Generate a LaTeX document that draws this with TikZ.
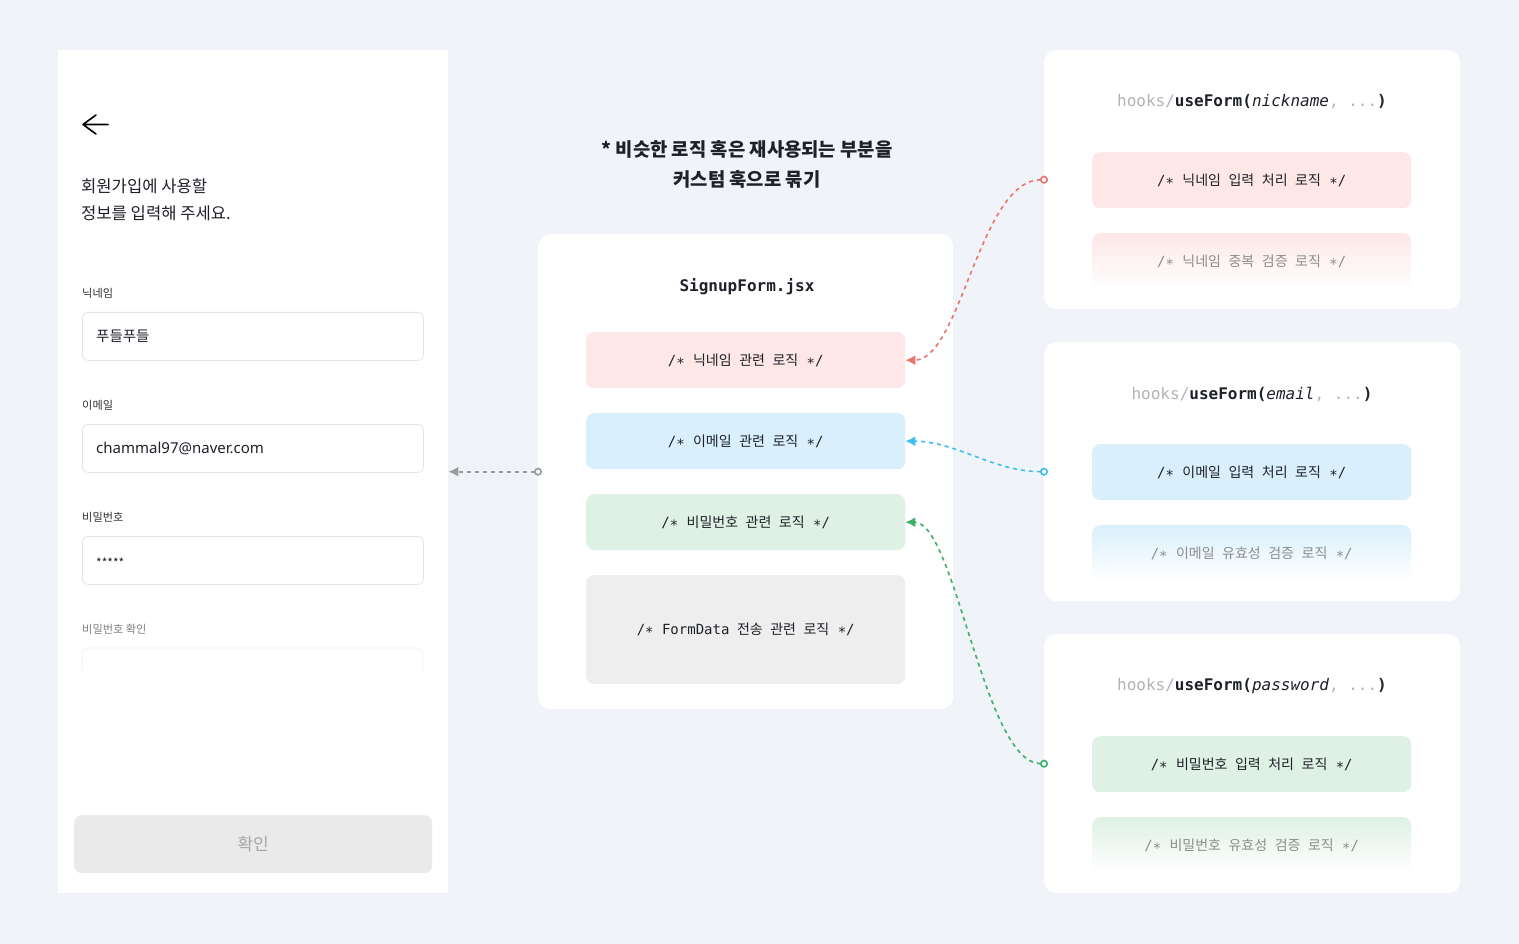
\documentclass[tikz,border=0pt]{standalone}
\usepackage{fontspec}
\setmainfont{Noto Sans CJK KR}
\newfontfamily\latinui{Noto Sans}
\newfontfamily\codefont{DejaVu Sans Mono}[ItalicFont={DejaVu Sans Mono Oblique},BoldFont={DejaVu Sans Mono Bold},BoldItalicFont={DejaVu Sans Mono Bold Oblique}]
\newfontfamily\kocode[WordSpace=2.4]{Noto Sans CJK KR}
\usetikzlibrary{positioning,arrows.meta}

\definecolor{pagebg}{HTML}{F0F3F7}
\definecolor{inkdark}{HTML}{1E2128}
\definecolor{pinkfill}{HTML}{FDE7E7}
\definecolor{bluefill}{HTML}{D9F0FC}
\definecolor{greenfill}{HTML}{DEF1E4}
\definecolor{grayfill}{HTML}{EEEEEE}
\definecolor{redline}{HTML}{E9736D}
\definecolor{blueline}{HTML}{3BBDF5}
\definecolor{greenline}{HTML}{3DAF6B}
\definecolor{grayline}{HTML}{9A9A9A}
\definecolor{hookgray}{HTML}{B3B3B3}
\definecolor{fieldline}{HTML}{E3E3E3}
\definecolor{btnfill}{HTML}{EAEAEA}

\newcommand\cmt[1]{{\codefont /∗}\hspace{0.6em}{\fontsize{14}{16}\selectfont\kocode #1}\hspace{0.6em}{\codefont ∗/}}
\newcommand\hooktitle[1]{{\color{hookgray}hooks/}{\bfseries useForm(}{\itshape #1}{\color{hookgray}, ...}{\bfseries )}}

\begin{document}
\begin{tikzpicture}[x=1pt,y=-1pt]
\tikzset{panel/.style={fill=white,anchor=north west,inner sep=0pt}}
\tikzset{card/.style={panel,rounded corners=12pt}}
\tikzset{field/.style={draw=fieldline,line width=0.8pt,rounded corners=6pt,anchor=north west,
    minimum width=341pt,minimum height=48pt,inner sep=0pt}}
\tikzset{fieldlabel/.style={anchor=west,inner sep=0pt,font=\fontsize{11.2}{13}\selectfont,text=black!80}}
\tikzset{fieldtext/.style={anchor=west,inner sep=0pt,font=\fontsize{14.5}{16}\selectfont,text=inkdark}}
\tikzset{logic/.style={rounded corners=8pt,anchor=north west,minimum width=319pt,minimum height=56pt,
    inner sep=0pt,font=\fontsize{14}{17}\selectfont\codefont,text=inkdark}}
\tikzset{fadelogic/.style={logic,bottom color=white,text=black!45}}
\tikzset{hookhead/.style={inner sep=0pt,font=\fontsize{16}{19}\selectfont\codefont,text=inkdark}}
\tikzset{link/.style={dash pattern=on 4pt off 4pt,line width=1.6pt,shorten <=-4pt,
    arrows={Circle[open,length=8pt,width=8pt]-Latex[length=10pt,width=10pt]}}}

\fill[pagebg] (0,0) rectangle (1519,944);

% sign-up screen
\node[panel,minimum width=390pt,minimum height=843pt] (phone) at (58,50) {};
\draw[line width=1.6pt,line cap=round,line join=round] (96,115) -- (83,124.5) -- (96,134) (83,124.5) -- (108,124.5);
\node[anchor=west,align=left,inner sep=0pt,font=\fontsize{16.6}{27}\selectfont,text=inkdark] (intro) at (81,199.5)
    {회원가입에 사용할\\정보를 입력해 주세요.};
\node[fieldlabel] (nickLabel) at (82,293) {닉네임};
\node[field] (nickField) at (82,312) {};
\node[fieldtext,right=14pt of nickField.west] (nickValue) {푸들푸들};
\node[fieldlabel] (mailLabel) at (82,405) {이메일};
\node[field] (mailField) at (82,424) {};
\node[fieldtext,right=14pt of mailField.west,font=\fontsize{15}{17}\latinui] (mailValue) {chammal97@naver.com};
\node[fieldlabel] (pwLabel) at (82,517) {비밀번호};
\node[field] (pwField) at (82,536) {};
\node[fieldtext,font=\fontsize{12}{14}\selectfont] (pwValue) at (96,563) {*****};
\node[fieldlabel,text=black!50] (pwAgainLabel) at (82,629) {비밀번호 확인};
\begin{scope}
\clip (58,640) rectangle (448,670);
\draw[fieldline!50,line width=0.8pt,rounded corners=6pt] (82,648) rectangle (423,696);
\end{scope}
\node[panel,fill=btnfill,rounded corners=8pt,minimum width=358pt,minimum height=58pt,
    font=\fontsize{17}{18}\selectfont,text=black!35] (okBtn) at (74,815) {확인};

% SignupForm.jsx
\node[align=center,inner sep=0pt,font=\fontsize{18.8}{30}\selectfont\bfseries,text=inkdark] (headline) at (747,164)
    {* 비슷한 로직 혹은 재사용되는 부분을\\커스텀 훅으로 묶기};
\node[card,minimum width=415pt,minimum height=475pt] (hub) at (538,234) {};
\node[hookhead] (hubTitle) at (747,287) {\bfseries SignupForm.jsx};
\node[logic,fill=pinkfill] (nickLogic) at (586,332) {\cmt{닉네임 관련 로직}};
\node[logic,fill=bluefill] (mailLogic) at (586,413) {\cmt{이메일 관련 로직}};
\node[logic,fill=greenfill] (pwLogic) at (586,494) {\cmt{비밀번호 관련 로직}};
\node[logic,fill=grayfill,minimum height=109pt] (sendLogic) at (586,575) {\cmt{{\fontsize{14}{17}\codefont FormData} 전송 관련 로직}};

% custom hooks
\node[card,minimum width=416pt,minimum height=259pt] (hookNick) at (1044,50) {};
\node[hookhead] (hookNickTitle) at (1252,102) {\hooktitle{nickname}};
\node[logic,fill=pinkfill] (nickInput) at (1092,152) {\cmt{닉네임 입력 처리 로직}};
\node[fadelogic,top color=pinkfill] (nickCheck) at (1092,233) {\cmt{닉네임 중복 검증 로직}};

\node[card,minimum width=416pt,minimum height=259pt] (hookMail) at (1044,342) {};
\node[hookhead] (hookMailTitle) at (1252,394) {\hooktitle{email}};
\node[logic,fill=bluefill] (mailInput) at (1092,444) {\cmt{이메일 입력 처리 로직}};
\node[fadelogic,top color=bluefill] (mailCheck) at (1092,525) {\cmt{이메일 유효성 검증 로직}};

\node[card,minimum width=416pt,minimum height=259pt] (hookPw) at (1044,634) {};
\node[hookhead] (hookPwTitle) at (1252,686) {\hooktitle{password}};
\node[logic,fill=greenfill] (pwInput) at (1092,736) {\cmt{비밀번호 입력 처리 로직}};
\node[fadelogic,top color=greenfill] (pwCheck) at (1092,817) {\cmt{비밀번호 유효성 검증 로직}};

% links
\draw[link,grayline] (hub.west) -- (phone.east);
\draw[link,redline] (hookNick.west) .. controls +(-64,0) and +(55,0) .. (nickLogic.east);
\draw[link,blueline] (hookMail.west) .. controls +(-50,0) and +(50,0) .. (mailLogic.east);
\draw[link,greenline] (hookPw.west) .. controls +(-60,0) and +(50,0) .. (pwLogic.east);
\end{tikzpicture}
\end{document}
